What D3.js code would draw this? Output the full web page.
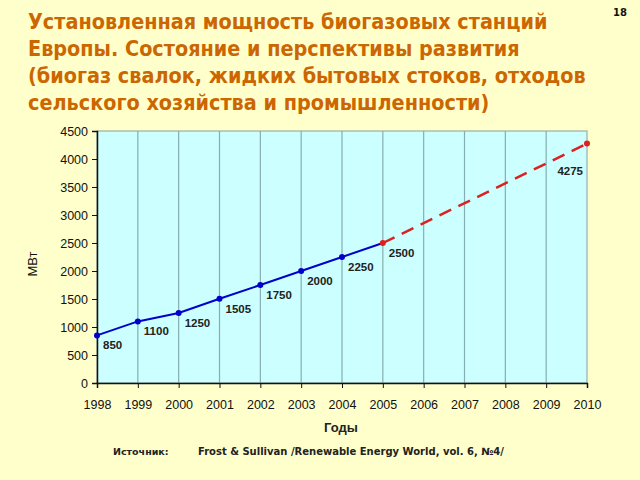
<!DOCTYPE html>
<html><head><meta charset="utf-8">
<script src="https://cdn.jsdelivr.net/npm/d3@7"></script>
<style>
html,body{margin:0;padding:0;background:#FFFFCC;}
svg{display:block;}
</style></head>
<body>
<script>
const titleLines = [
  "Установленная мощность биогазовых станций",
  "Европы. Состояние и перспективы развития",
  "(биогаз свалок, жидких бытовых стоков, отходов",
  "сельского хозяйства и промышленности)"
];
const years = [1998,1999,2000,2001,2002,2003,2004,2005,2006,2007,2008,2009,2010];
const actualYears = [1998,1999,2000,2001,2002,2003,2004,2005];
const actualValues = [850,1100,1250,1505,1750,2000,2250,2500];
const forecastYears = [2005,2010];
const forecastValues = [2500,4275];
const yTicks = [0,500,1000,1500,2000,2500,3000,3500,4000,4500];

const W=640,H=480;
const svg=d3.select("body").append("svg").attr("width",W).attr("height",H);
svg.append("rect").attr("width",W).attr("height",H).attr("fill","#FFFFCC");

const x=d3.scaleLinear().domain([1998,2010]).range([97,587]);
const y=d3.scaleLinear().domain([0,4500]).range([383,131]);

// title
titleLines.forEach((t,i)=>{
  svg.append("text").attr("x",28).attr("y",29+i*27).text(t)
    .attr("font-family","'DejaVu Sans Condensed','DejaVu Sans',sans-serif")
    .attr("font-weight","bold").attr("font-size",21.4).attr("fill","#CC6600");
});
svg.append("text").attr("x",620).attr("y",16).text("18")
  .attr("font-family","'DejaVu Sans',sans-serif").attr("font-weight","bold")
  .attr("font-size",10).attr("fill","#111").attr("text-anchor","middle");

// plot area
svg.append("rect").attr("x",x(1998)).attr("y",y(4500))
  .attr("width",x(2010)-x(1998)).attr("height",y(0)-y(4500))
  .attr("fill","#CCFFFF").attr("stroke","#8A9E9E").attr("stroke-width",1);

// gridlines
svg.append("g").selectAll("line").data(years.slice(1,-1)).join("line")
  .attr("x1",d=>x(d)).attr("x2",d=>x(d)).attr("y1",y(4500)).attr("y2",y(0))
  .attr("stroke","#86AEB0").attr("stroke-width",1.2);

// axes
const yAxis=svg.append("g").attr("transform",`translate(${x(1998)},0)`)
  .call(d3.axisLeft(y).tickValues(yTicks).tickFormat(d3.format("d")).tickSize(5).tickPadding(4));
const xAxis=svg.append("g").attr("transform",`translate(0,${y(0)})`)
  .call(d3.axisBottom(x).tickValues(years).tickFormat(d3.format("d")).tickSize(5).tickPadding(12));
[yAxis,xAxis].forEach(g=>{
  g.select(".domain").attr("stroke","#111").attr("stroke-width",1.5);
  g.selectAll(".tick line").attr("stroke","#111");
  g.selectAll("text").attr("font-family","Arial, 'Liberation Sans', sans-serif")
    .attr("font-size",12.5).attr("fill","#111");
});

// axis titles
svg.append("text").attr("transform",`translate(37,264) rotate(-90)`)
  .attr("text-anchor","middle").text("МВт")
  .attr("font-family","Arial, 'Liberation Sans', sans-serif").attr("font-size",13).attr("fill","#111");
svg.append("text").attr("x",341).attr("y",432).attr("text-anchor","middle").text("Годы")
  .attr("font-family","Arial, 'Liberation Sans', sans-serif").attr("font-weight","bold")
  .attr("font-size",13).attr("fill","#222");

// source
svg.append("text").attr("x",113).attr("y",455).text("Источник:")
  .attr("font-family","'DejaVu Sans',sans-serif").attr("font-weight","bold").attr("font-size",9.5).attr("fill","#222");
svg.append("text").attr("x",198).attr("y",455).text("Frost & Sullivan /Renewable Energy World, vol. 6, №4/")
  .attr("font-family","'DejaVu Sans',sans-serif").attr("font-weight","bold").attr("font-size",10).attr("fill","#222");

// lines
const actual=actualYears.map((d,i)=>[d,actualValues[i]]);
const forecast=forecastYears.map((d,i)=>[d,forecastValues[i]]);
const line=d3.line().x(d=>x(d[0])).y(d=>y(d[1]));
svg.append("path").datum(forecast).attr("d",line).attr("fill","none")
  .attr("stroke","#DD2020").attr("stroke-width",2.5).attr("stroke-dasharray","13,8");
svg.append("path").datum(actual).attr("d",line).attr("fill","none")
  .attr("stroke","#0000CC").attr("stroke-width",2);
svg.append("g").selectAll("circle").data(actual.slice(0,-1)).join("circle")
  .attr("cx",d=>x(d[0])).attr("cy",d=>y(d[1])).attr("r",3).attr("fill","#0000CC");
svg.append("g").selectAll("circle").data(forecast).join("circle")
  .attr("cx",d=>x(d[0])).attr("cy",d=>y(d[1])).attr("r",3).attr("fill","#DD2020");

// labels
const lf="Arial, 'Liberation Sans', sans-serif";
svg.append("g").selectAll("text").data(actual).join("text")
  .attr("x",d=>x(d[0])+6).attr("y",d=>y(d[1])+14).text(d=>d[1])
  .attr("font-family",lf).attr("font-weight","bold").attr("font-size",11.5).attr("fill","#222");
svg.append("text").attr("x",x(2010)-4).attr("y",y(4275)+31).attr("text-anchor","end").text(forecastValues[1])
  .attr("font-family",lf).attr("font-weight","bold").attr("font-size",11.5).attr("fill","#222");
</script>
</body></html>
